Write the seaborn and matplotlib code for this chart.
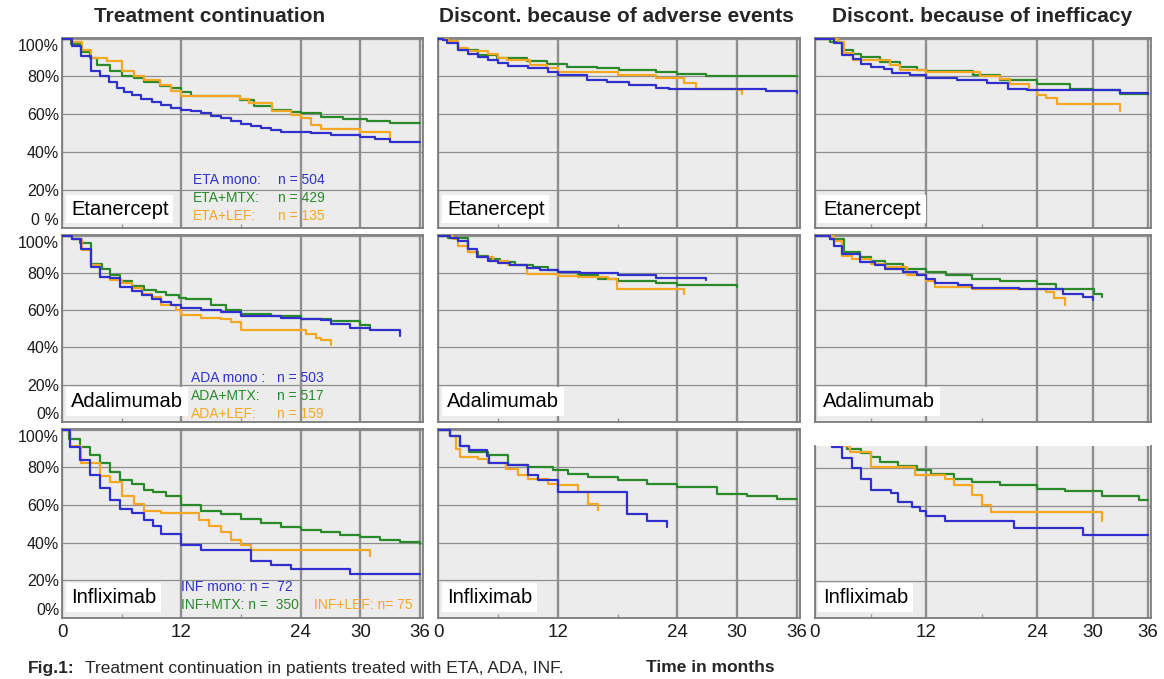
import matplotlib
matplotlib.use("Agg")
import matplotlib.pyplot as plt
import pandas as pd
import seaborn as sns

# ---- labels / categories ----
COL_TITLES = ["Treatment continuation",
              "Discont. because of adverse events",
              "Discont. because of inefficacy"]
DRUGS = ["Etanercept", "Adalimumab", "Infliximab"]
GROUPS = ["MTX", "LEF", "mono"]
COLORS = {"mono": "#3030cc", "MTX": "#2a8a2a", "LEF": "#f5a623"}
X_TICKS = [0, 12, 24, 30, 36]
Y_TICKS = [0, 20, 40, 60, 80, 100]
Y_LABELS_TOP = ["0 %", "20%", "40%", "60%", "80%", "100%"]
Y_LABELS = ["0%", "20%", "40%", "60%", "80%", "100%"]

LEGEND_ETA = [("ETA mono:", "n = 504"), ("ETA+MTX:", "n = 429"), ("ETA+LEF:", "n = 135")]
LEGEND_ADA = [("ADA mono :", "n = 503"), ("ADA+MTX:", "n = 517"), ("ADA+LEF:", "n = 159")]
LEGEND_INF = ["INF mono: n =  72", "INF+MTX: n =  350", "INF+LEF: n= 75"]

# ---- Kaplan-Meier step curves: (month, % still on treatment) ----
# Etanercept - treatment continuation
eta_cont_mono = [(0, 100), (1.0, 96), (1.9, 91), (2.9, 83), (3.8, 80), (4.7, 77), (5.5, 74),
                 (6.2, 72), (7.0, 70), (7.9, 68), (9.0, 66.5), (10, 65), (11, 63.5), (12, 62.5),
                 (13, 61.5), (14, 60.5), (15, 59), (16, 58), (17, 56.5), (18, 55), (19, 54),
                 (20, 53), (21, 51.5), (22, 50.5), (25, 50), (27, 49), (30, 48), (31.5, 47),
                 (33, 45.5), (36, 45.5)]
eta_cont_mtx = [(0, 100), (0.9, 97), (1.9, 93), (2.8, 90), (3.5, 86), (4.8, 83), (6, 80.5),
                (7.2, 79), (8.2, 77), (9.9, 75), (11, 74), (12, 72), (13, 69.5), (17.9, 67.5),
                (19.3, 64.5), (21.1, 62.5), (23, 61.3), (24, 60.5), (26, 58.6), (28.3, 57.7),
                (30.7, 56.5), (33, 55.5), (36, 55.5)]
eta_cont_lef = [(0, 100), (1, 98), (2, 94), (2.9, 90), (4.5, 88), (6, 83), (7.2, 80), (8.2, 78),
                (9.9, 75.5), (11, 72.5), (12, 69.5), (17.9, 68), (18.8, 66), (21.1, 62),
                (23, 59.5), (24, 58), (25, 54.5), (26, 52.5), (30, 50.5), (33, 50), (33, 47)]
# Etanercept - adverse events
eta_ae_mono = [(0, 100), (0.5, 99), (0.9, 97.5), (2, 93.8), (3, 92), (4, 90.3), (5, 88.6),
               (6, 87), (7, 85.6), (9, 84.2), (11, 82.4), (12, 80.6), (14.9, 78.3), (16.9, 77),
               (19.2, 75.4), (21.9, 74), (23.2, 73.6), (32.9, 72.4), (36, 71.5)]
eta_ae_mtx = [(0, 100), (1, 98), (2, 93.8), (4, 91.5), (5.9, 90), (8.9, 88), (10.9, 86.4),
              (12.9, 85), (15.9, 84.2), (18.2, 83.3), (21.9, 82.4), (24, 81.2), (26.9, 80.1),
              (36, 80)]
eta_ae_lef = [(0, 100), (1, 98.5), (2, 95), (3, 93.5), (5, 92), (6, 90), (6.9, 88.6), (9.2, 86),
              (10.9, 84.2), (12, 82.4), (18, 80.6), (21.9, 79.2), (24.7, 76.6), (25.9, 73.6),
              (30, 72.7), (30.5, 72.7), (30.5, 71)]
# Etanercept - inefficacy
eta_ineff_mono = [(0, 100), (2, 97.4), (2.9, 91.2), (4.1, 89.4), (5, 86.8), (6, 85), (7.5, 83.8),
                  (8.3, 81.9), (10.3, 80.6), (12, 79.4), (15.3, 78), (18.6, 76.6), (20.9, 73.6),
                  (22.9, 73.1), (26.5, 72.7), (33, 71.3), (36, 70.7)]
eta_ineff_mtx = [(0, 100), (1.6, 98), (2.9, 94.2), (4.1, 92), (5, 90.3), (7, 87.7), (9.2, 85),
                 (11, 83.3), (12, 82.7), (17.1, 80.6), (20, 78), (24, 76.2), (27.6, 73.6),
                 (30, 72.7), (33, 71), (36, 70.7)]
eta_ineff_lef = [(0, 100), (2.5, 98), (3.1, 92.4), (4.1, 88.9), (8.1, 86), (9.2, 83.3),
                 (12, 82.4), (17.8, 80.1), (20, 78.9), (21.1, 76), (23.1, 73), (24, 70),
                 (25, 68.8), (26.1, 65.7), (33, 65.7), (33, 62)]

# Adalimumab - treatment continuation
ada_cont_mono = [(0, 100), (1, 98), (1.9, 93), (2.9, 83), (3.8, 78), (4.8, 77), (5.8, 72.5),
                 (7, 70), (8, 68), (9, 66), (10, 64.5), (11, 62.5), (12, 61), (14, 60),
                 (16, 58.8), (18, 57), (22, 56), (24, 55), (26, 54.5), (27, 52.5), (29, 50.5),
                 (31, 49.5), (34, 49), (34, 46)]
ada_cont_mtx = [(0, 100), (1, 98), (1.8, 96), (2.9, 85), (4, 82), (4.8, 79), (5.8, 75.5),
                (7, 73), (8.2, 71), (9.5, 69.5), (10.5, 68), (11.8, 66.7), (12.5, 65.8),
                (15, 63), (16.5, 60), (18, 57.9), (21, 57), (24, 55.5), (27, 54), (30, 52),
                (31, 50), (31, 49.5)]
ada_cont_lef = [(0, 100), (1, 98), (2, 92), (2.9, 84), (3.8, 78), (4.8, 76), (6, 74.5), (7, 72),
                (8, 68.5), (9, 67), (10, 62.5), (11.5, 60), (12, 57.5), (14, 56), (16, 55),
                (17, 53.5), (18, 49.5), (24.5, 47), (25.5, 45), (26, 44), (27, 44), (27, 41.5)]
# Adalimumab - adverse events
ada_ae_mono = [(0, 100), (1.2, 98.5), (2, 97), (3, 93), (3.9, 88.4), (5, 86.6), (6, 85.4),
               (7.2, 84), (8.9, 82.5), (10.2, 81.3), (12, 80.4), (14.2, 79.9), (18, 78.6),
               (21.9, 77.2), (26.9, 76.5), (26.9, 76)]
ada_ae_mtx = [(0, 100), (1, 98.5), (3, 91.4), (4, 89.3), (5, 87.5), (6.2, 85.7), (7.7, 84.3),
              (9.5, 83), (11, 81.3), (12, 80.4), (14, 78.8), (16, 76.8), (18, 75.4),
              (21.9, 74.7), (24, 73.6), (30, 73), (30, 72.5)]
ada_ae_lef = [(0, 100), (1.5, 98), (2, 94.6), (3, 91.4), (3.9, 88.4), (5.5, 86.6), (7, 84.3),
              (8.9, 79.5), (12, 78.3), (14, 77.7), (17, 76.8), (17.9, 71.5), (24.7, 71.5),
              (24.7, 68.8)]
# Adalimumab - inefficacy
ada_ineff_mono = [(0, 100), (1.6, 98), (2, 94.6), (2.9, 90.2), (4.9, 85.7), (6.5, 84),
                  (7.6, 82.2), (9.5, 80.4), (11, 78.6), (12, 76.8), (13, 74.7), (15.5, 73.3),
                  (17, 71.8), (22, 71.5), (25, 71.1), (26.8, 68.8), (29, 67), (30, 65.5)]
ada_ineff_mtx = [(0, 100), (1.6, 98), (3.1, 91.4), (4.9, 88.4), (6, 86.6), (7.6, 84.8),
                 (9.5, 82.2), (12, 80.4), (14.2, 78.6), (17, 76.8), (20, 75.4), (24, 74.2),
                 (26, 71.1), (30.1, 68.8), (31, 67)]
ada_ineff_lef = [(0, 100), (2, 97), (2.9, 89.3), (4, 87.5), (6, 84.8), (7.6, 83), (9.9, 78.6),
                 (12, 75.4), (13, 72.4), (17, 71.1), (25, 69.7), (25.8, 66.5), (27, 66.5),
                 (27, 63)]

# Infliximab - treatment continuation
inf_cont_mono = [(0, 100), (0.8, 91), (1.8, 84), (2.8, 76), (3.8, 69), (4.8, 62.5), (5.8, 58),
                 (7, 55.5), (8.2, 52), (9.2, 49), (10, 44.5), (12, 38.5), (14, 36.3), (19, 30),
                 (21, 28), (23, 26), (29, 23.5), (36, 23.5)]
inf_cont_mtx = [(0, 100), (0.7, 95), (1.8, 91), (2.8, 86.5), (3.8, 82), (4.8, 77.5),
                (5.8, 73.5), (7, 71), (8.2, 68), (9.2, 66.8), (10.5, 65), (12, 60), (14, 57),
                (16, 55.4), (18, 52.7), (20, 50.6), (22, 48.3), (24, 46.5), (26, 45.7),
                (28, 44), (30, 43), (32, 41.3), (34, 40.3), (36, 39.5)]
inf_cont_lef = [(0, 100), (0.8, 91.5), (1.9, 82), (3.8, 75.5), (4.8, 72), (6, 65), (7.2, 60.5),
                (8.2, 57), (10, 55.5), (13.8, 52), (14.8, 49), (16, 45.5), (17, 41.5),
                (18, 38.5), (19, 36), (31, 36), (31, 33)]
# Infliximab - adverse events
inf_ae_mono = [(0, 100), (1.2, 96.5), (2.2, 91.2), (3.1, 88.9), (4.9, 86.2), (5.1, 82.4),
               (7, 81.3), (9, 75.7), (10, 73), (12, 66.8), (19, 55.4), (21, 51.3), (23, 48.3)]
inf_ae_mtx = [(0, 100), (1.2, 96.5), (2.2, 91.2), (3.1, 88), (5, 86.6), (7, 81.3), (9, 80),
              (11.5, 78.3), (13, 76.5), (15, 74.8), (18, 73), (21, 71.3), (24, 69.5), (28, 66),
              (31, 64.7), (34, 63.3), (36, 63)]
inf_ae_lef = [(0, 100), (1.2, 96.5), (1.8, 89.8), (2.2, 85.4), (4, 84.5), (5, 82.4),
              (6.8, 79.2), (8, 75.7), (9, 73.9), (11, 71.3), (12, 70.7), (14, 66.8),
              (15, 60.3), (16, 57.5)]
# Infliximab - inefficacy
inf_ineff_mono = [(0, 100), (1.8, 91.5), (2.9, 85.4), (4, 80), (5, 74.6), (6, 68.4),
                  (8.2, 66.6), (9, 62.1), (10.5, 59.5), (11.3, 57.1), (12, 54.6), (14, 51.8),
                  (21.5, 48.2), (29, 44.3), (36, 44.3)]
inf_ineff_mtx = [(0, 100), (2.5, 92.5), (3.5, 90.4), (5, 88), (6, 85.9), (7, 83.6), (9, 81.4),
                 (11, 79.1), (12.5, 76.8), (15, 74.6), (17, 72.9), (20, 71.1), (24, 68.9),
                 (27, 68), (31, 65.2), (35, 63), (36, 63)]
inf_ineff_lef = [(0, 100), (3, 92), (3.8, 88.9), (6, 80.9), (10.8, 76.4), (14, 74.6),
                 (15, 71.1), (17, 65.7), (18, 60.4), (19, 56.8), (31, 56.8), (31, 52)]

CURVES = {
    (0, 0): {"mono": eta_cont_mono, "MTX": eta_cont_mtx, "LEF": eta_cont_lef},
    (0, 1): {"mono": eta_ae_mono, "MTX": eta_ae_mtx, "LEF": eta_ae_lef},
    (0, 2): {"mono": eta_ineff_mono, "MTX": eta_ineff_mtx, "LEF": eta_ineff_lef},
    (1, 0): {"mono": ada_cont_mono, "MTX": ada_cont_mtx, "LEF": ada_cont_lef},
    (1, 1): {"mono": ada_ae_mono, "MTX": ada_ae_mtx, "LEF": ada_ae_lef},
    (1, 2): {"mono": ada_ineff_mono, "MTX": ada_ineff_mtx, "LEF": ada_ineff_lef},
    (2, 0): {"mono": inf_cont_mono, "MTX": inf_cont_mtx, "LEF": inf_cont_lef},
    (2, 1): {"mono": inf_ae_mono, "MTX": inf_ae_mtx, "LEF": inf_ae_lef},
    (2, 2): {"mono": inf_ineff_mono, "MTX": inf_ineff_mtx, "LEF": inf_ineff_lef},
}

rows = []
for (r, c), groups in CURVES.items():
    for g, pts in groups.items():
        for i, (t, s) in enumerate(pts):
            rows.append([r, c, g, i, t, s])
df = pd.DataFrame(rows, columns=["row", "col", "group", "idx", "month", "pct"])

sns.set_theme(style="white")
plt.rcParams["font.family"] = ["Liberation Sans", "DejaVu Sans"]

W, H = 1164, 679
fig = plt.figure(figsize=(W / 100, H / 100), dpi=100)

# panel boxes in pixels (left, right) / (top, bottom)
COL_PX = [(62, 423), (438, 800), (815, 1151)]
ROW_PX = [(38, 228), (235, 422), (429, 618)]

axes = {}
for r in range(3):
    for c in range(3):
        x0, x1 = COL_PX[c]
        y0, y1 = ROW_PX[r]
        top = 100.3
        if (r, c) == (2, 2):
            y0, top = 446, 92
        ax = fig.add_axes([x0 / W, 1 - y1 / H, (x1 - x0) / W, (y1 - y0) / H])
        axes[(r, c)] = ax
        ax.set_facecolor("#ececec")
        sub = df[(df.row == r) & (df.col == c)]
        sns.lineplot(data=sub, x="month", y="pct", hue="group", hue_order=GROUPS,
                     palette=COLORS, estimator=None, sort=False, units="group",
                     drawstyle="steps-post", lw=1.6, legend=False, ax=ax, zorder=3)
        ax.set_xlim(0, 36.3)
        ax.set_ylim(0, top)
        ax.set_xticks(X_TICKS)
        ax.set_xticks([6, 18], minor=True)
        ax.set_yticks([t for t in Y_TICKS if t <= top])
        ax.xaxis.grid(True, color="#8e8e8e", lw=1.7)
        ax.yaxis.grid(True, color="#8e8e8e", lw=0.9)
        ax.set_axisbelow(True)
        ax.tick_params(axis="both", which="major", length=0)
        ax.tick_params(axis="x", which="minor", length=3, direction="in",
                       color="#9a9a9a", width=1, bottom=True)
        ax.set_xlabel("")
        ax.set_ylabel("")
        for name, sp in ax.spines.items():
            sp.set_color("#7c7c7c")
            sp.set_linewidth(1.3)
        if (r, c) == (2, 2):
            ax.spines["top"].set_visible(False)
        if c == 0:
            labels = ax.set_yticklabels(Y_LABELS_TOP if r == 0 else Y_LABELS,
                                        fontsize=11.5, color="#1a1a1a")
            labels[0].set_va("bottom")
            labels[-1].set_va("top")
            ax.tick_params(axis="y", pad=2)
        else:
            ax.set_yticklabels([])
        if r == 2:
            ax.set_xticklabels([str(t) for t in X_TICKS], fontsize=13.5, color="#1a1a1a")
            ax.tick_params(axis="x", which="major", pad=4)
        else:
            ax.set_xticklabels([])
        ax.text(0.9, 10.0 if r == 0 else 11, DRUGS[r], fontsize=14.5, color="black",
                ha="left", va="center", zorder=5,
                bbox=dict(facecolor="white", edgecolor="none", pad=3.5))

# group legends (typed as coloured text inside the first column)
ax = axes[(0, 0)]
for (lab, n), g, y in zip(LEGEND_ETA, ["mono", "MTX", "LEF"], [25.3, 15.8, 6.3]):
    ax.text(13.2, y, lab, color=COLORS[g], fontsize=10, va="center", zorder=5)
    ax.text(21.7, y, n, color=COLORS[g], fontsize=10, va="center", zorder=5)
ax = axes[(1, 0)]
for (lab, n), g, y in zip(LEGEND_ADA, ["mono", "MTX", "LEF"], [23.5, 13.9, 4.3]):
    ax.text(13.0, y, lab, color=COLORS[g], fontsize=10, va="center", zorder=5)
    ax.text(21.6, y, n, color=COLORS[g], fontsize=10, va="center", zorder=5)
ax = axes[(2, 0)]
ax.text(12.0, 16.4, LEGEND_INF[0], color=COLORS["mono"], fontsize=10, va="center", zorder=5)
ax.text(12.0, 6.9, LEGEND_INF[1], color=COLORS["MTX"], fontsize=10, va="center", zorder=5)
ax.text(25.3, 6.9, LEGEND_INF[2], color=COLORS["LEF"], fontsize=10, va="center", zorder=5)

# column titles
for cx, title in zip([210, 616, 982], COL_TITLES):
    fig.text(cx / W, 1 - 17 / H, title, ha="center", va="center",
             fontsize=15, fontweight="bold")

# caption
fig.text(28 / W, 1 - 668 / H, "Fig.1:", fontsize=12.5, fontweight="bold", va="center")
fig.text(85 / W, 1 - 668 / H, "Treatment continuation in patients treated with ETA, ADA, INF.",
         fontsize=12.5, va="center")
fig.text(646 / W, 1 - 668 / H, "Time in months", fontsize=12.5, fontweight="bold", va="center")

fig.savefig("out.png", dpi=100, facecolor="white")
